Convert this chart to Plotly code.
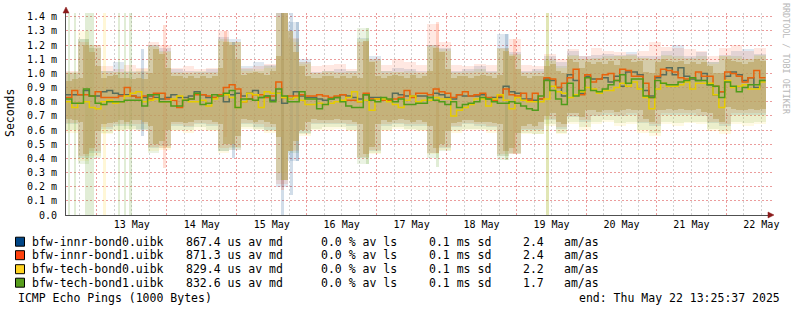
import numpy as np
import pandas as pd
import plotly.graph_objects as go

# ---------------- data ----------------
hosts = ["bfw-innr-bond0.uibk", "bfw-innr-bond1.uibk", "bfw-tech-bond0.uibk", "bfw-tech-bond1.uibk"]
host_colors = ["#004586", "#ff420e", "#ffd320", "#579d1c"]
line_colors = ["#566c5c", "#e8620c", "#e6cc00", "#4f9c1a"]
median_avg_us = [867.4, 871.3, 829.4, 832.6]
loss_avg_pct = [0.0, 0.0, 0.0, 0.0]
sd_ms = [0.1, 0.1, 0.1, 0.1]
am_as = [2.4, 2.4, 2.2, 1.7]
title_text = "ICMP Echo Pings (1000 Bytes)"
end_label = "end: Thu May 22 13:25:37 2025"
end_time = pd.Timestamp("2025-05-22 13:25:37")
start_time = pd.Timestamp("2025-05-12 13:25:37")

# median RTT (ms), 2-hour steps from start_time
med_innr_bond0 = [
    0.85,0.85,0.85,0.88,0.84,0.84,0.87,0.88,0.86,0.85,0.85,0.84,0.83,0.83,0.84,0.83,0.82,0.83,0.85,0.83,0.83,0.84,0.87,0.85,
    0.83,0.83,0.84,0.80,0.85,0.86,0.84,0.86,0.88,0.83,0.84,0.81,0.86,0.79,0.82,0.87,0.84,0.83,0.83,0.82,0.81,0.82,0.83,0.85,
    0.84,0.83,0.82,0.85,0.83,0.83,0.81,0.81,0.86,0.85,0.84,0.84,0.84,0.84,0.83,0.86,0.85,0.83,0.82,0.85,0.84,0.84,0.84,0.85,
    0.82,0.83,0.83,0.91,0.87,0.86,0.82,0.82,0.81,0.82,0.96,0.95,0.90,0.84,0.99,0.95,0.86,0.98,0.96,0.96,0.97,0.94,0.98,0.91,
    1.01,1.01,0.99,0.88,0.84,0.97,0.99,1.04,0.99,1.04,0.98,0.96,0.95,1.00,0.92,0.85,0.87,0.98,1.01,0.99,0.95,0.97,0.90,0.95]
med_innr_bond1 = [
    0.83,0.88,0.85,0.85,0.84,0.87,0.83,0.83,0.83,0.84,0.90,0.84,0.83,0.84,0.82,0.86,0.86,0.82,0.81,0.76,0.81,0.82,0.85,0.85,
    0.84,0.83,0.85,0.90,0.92,0.89,0.80,0.82,0.85,0.85,0.83,0.84,0.94,0.83,0.84,0.84,0.85,0.84,0.84,0.85,0.84,0.83,0.84,0.85,
    0.81,0.81,0.80,0.86,0.82,0.82,0.81,0.81,0.82,0.83,0.88,0.83,0.86,0.86,0.85,0.89,0.87,0.86,0.83,0.85,0.87,0.84,0.85,0.86,
    0.83,0.81,0.84,0.89,0.85,0.84,0.86,0.81,0.86,0.82,0.97,0.96,0.90,0.93,0.97,1.03,0.85,0.99,0.94,0.96,0.99,1.00,0.95,1.03,
    1.02,0.98,0.98,0.93,0.83,0.98,1.03,1.02,1.01,0.97,0.96,0.97,1.01,0.98,0.98,0.91,0.87,1.01,1.00,0.98,0.94,0.97,1.02,0.97]
med_tech_bond0 = [
    0.80,0.76,0.79,0.80,0.76,0.75,0.80,0.81,0.79,0.80,0.84,0.86,0.87,0.80,0.81,0.82,0.80,0.80,0.82,0.84,0.81,0.80,0.80,0.81,
    0.77,0.82,0.84,0.85,0.83,0.76,0.80,0.86,0.85,0.76,0.87,0.86,0.86,0.83,0.82,0.83,0.81,0.78,0.78,0.79,0.78,0.79,0.80,0.81,
    0.83,0.87,0.80,0.81,0.74,0.82,0.82,0.80,0.78,0.76,0.81,0.84,0.80,0.81,0.81,0.83,0.82,0.82,0.70,0.74,0.76,0.78,0.82,0.82,
    0.77,0.82,0.85,0.81,0.75,0.83,0.81,0.80,0.80,0.80,0.82,0.91,0.87,0.86,0.83,0.85,0.87,0.90,0.89,0.86,0.88,0.88,0.90,0.93,
    0.91,0.94,0.89,0.83,0.75,0.89,0.93,0.91,0.91,0.92,0.94,0.89,0.93,0.93,0.93,0.85,0.76,0.95,0.90,0.91,0.92,0.89,0.89,0.94]
med_tech_bond1 = [
    0.82,0.79,0.79,0.89,0.84,0.79,0.78,0.80,0.80,0.80,0.81,0.81,0.81,0.77,0.85,0.85,0.80,0.80,0.77,0.77,0.81,0.82,0.86,0.78,
    0.79,0.85,0.84,0.86,0.88,0.76,0.82,0.82,0.81,0.83,0.84,0.80,0.89,0.84,0.80,0.80,0.87,0.82,0.82,0.75,0.78,0.82,0.83,0.80,
    0.77,0.76,0.76,0.85,0.81,0.80,0.83,0.82,0.80,0.82,0.78,0.78,0.79,0.79,0.83,0.81,0.80,0.78,0.80,0.76,0.78,0.79,0.80,0.83,
    0.82,0.80,0.79,0.79,0.80,0.79,0.77,0.75,0.74,0.84,0.95,0.88,0.82,0.78,0.93,0.84,0.88,0.97,0.88,0.87,0.89,0.92,0.95,0.99,
    0.93,0.96,0.96,0.84,0.83,0.95,0.93,0.92,0.92,0.94,0.95,0.97,0.95,0.95,0.92,0.91,0.83,0.94,0.91,0.87,0.90,0.92,0.92,0.95]

# dense smoke core (all hosts), 2-hour steps (ms)
core_hi = [
    0.95,0.96,0.97,1.20,1.15,1.05,0.97,0.98,0.99,0.97,0.97,0.96,0.97,0.96,1.00,1.17,1.14,1.04,0.98,0.98,0.97,0.98,0.97,0.98,
    0.97,0.98,1.04,1.22,1.20,1.10,0.99,1.00,1.01,1.00,0.99,1.02,1.12,1.43,1.30,1.15,1.05,0.98,0.97,0.97,0.98,0.98,0.97,0.98,
    0.97,0.98,0.97,1.23,1.08,0.98,0.97,0.98,0.99,0.98,0.97,0.99,0.97,0.98,1.02,1.18,1.15,1.03,0.97,0.98,0.98,0.97,0.98,0.99,
    0.98,0.97,0.99,1.16,1.12,1.03,0.98,0.97,0.98,0.98,1.05,1.07,1.02,1.00,1.10,1.08,1.04,1.08,1.07,1.08,1.07,1.09,1.06,1.10,
    1.10,1.08,1.09,1.01,1.00,1.08,1.10,1.09,1.08,1.09,1.07,1.08,1.07,1.08,1.05,1.00,1.00,1.10,1.09,1.08,1.07,1.08,1.10,1.09]
core_lo = [
    0.68,0.67,0.66,0.43,0.47,0.59,0.64,0.65,0.66,0.67,0.66,0.67,0.67,0.66,0.63,0.50,0.52,0.60,0.66,0.66,0.65,0.66,0.67,0.67,
    0.67,0.66,0.64,0.50,0.50,0.56,0.68,0.67,0.66,0.67,0.66,0.64,0.55,0.25,0.45,0.52,0.60,0.66,0.68,0.67,0.67,0.67,0.68,0.67,
    0.67,0.66,0.64,0.43,0.48,0.64,0.67,0.66,0.67,0.68,0.67,0.66,0.67,0.66,0.63,0.47,0.50,0.59,0.65,0.66,0.67,0.67,0.66,0.66,
    0.66,0.65,0.64,0.45,0.47,0.58,0.63,0.64,0.63,0.66,0.70,0.72,0.66,0.64,0.72,0.72,0.69,0.74,0.74,0.73,0.74,0.74,0.73,0.74,
    0.75,0.74,0.74,0.68,0.66,0.74,0.74,0.75,0.74,0.75,0.74,0.74,0.75,0.73,0.72,0.68,0.66,0.76,0.75,0.74,0.74,0.75,0.74,0.75]

# per-host smoke envelope (max / min ping), 4-hour steps (ms)
smoke_hi_innr_bond0 = [
    1.00,1.24,1.18,1.02,1.08,1.01,1.02,1.20,1.18,1.03,1.02,1.01,1.03,1.26,1.24,1.05,1.08,1.06,1.43,1.36,
    1.10,1.01,1.02,1.03,1.02,1.25,1.12,1.02,1.04,1.03,1.02,1.20,1.18,1.02,1.03,1.05,1.02,1.28,1.15,1.02,
    1.03,1.12,1.08,1.16,1.12,1.13,1.14,1.13,1.15,1.12,1.12,1.16,1.20,1.12,1.15,1.08,1.13,1.16,1.17,1.14]
smoke_lo_innr_bond0 = [
    0.64,0.40,0.44,0.61,0.63,0.63,0.60,0.47,0.49,0.63,0.62,0.64,0.63,0.45,0.46,0.64,0.62,0.60,0.20,0.38,
    0.58,0.64,0.64,0.64,0.63,0.40,0.45,0.63,0.64,0.63,0.63,0.44,0.47,0.62,0.64,0.63,0.62,0.42,0.44,0.60,
    0.60,0.67,0.61,0.69,0.66,0.70,0.71,0.70,0.71,0.65,0.63,0.71,0.71,0.71,0.70,0.65,0.63,0.71,0.71,0.71]
smoke_hi_innr_bond1 = [
    1.02,1.22,1.20,1.05,1.03,1.06,1.04,1.22,1.20,1.04,1.05,1.03,1.04,1.30,1.22,1.04,1.05,1.07,1.43,1.25,
    1.08,1.05,1.06,1.07,1.03,1.22,1.10,1.06,1.10,1.08,1.06,1.35,1.22,1.06,1.05,1.07,1.06,1.18,1.24,1.06,
    1.05,1.14,1.10,1.17,1.12,1.18,1.16,1.15,1.14,1.16,1.22,1.19,1.18,1.17,1.16,1.12,1.18,1.20,1.16,1.18]
smoke_lo_innr_bond1 = [
    0.65,0.42,0.45,0.62,0.64,0.64,0.64,0.48,0.47,0.64,0.63,0.65,0.64,0.47,0.48,0.65,0.64,0.62,0.22,0.45,
    0.60,0.65,0.65,0.65,0.64,0.41,0.46,0.64,0.65,0.64,0.64,0.44,0.48,0.63,0.65,0.64,0.63,0.43,0.43,0.61,
    0.61,0.68,0.62,0.70,0.67,0.71,0.72,0.71,0.72,0.66,0.64,0.72,0.72,0.72,0.71,0.66,0.64,0.72,0.72,0.72]
smoke_hi_tech_bond0 = [
    1.00,1.30,1.18,1.00,1.01,1.00,1.03,1.19,1.15,1.00,1.01,1.00,1.00,1.23,1.22,1.02,1.03,1.04,1.40,1.22,
    1.07,1.00,1.01,1.00,1.00,1.24,1.09,1.00,1.01,1.00,1.01,1.19,1.16,1.00,1.00,1.01,1.00,1.17,1.13,1.00,
    1.00,1.09,1.04,1.12,1.10,1.10,1.11,1.12,1.12,1.11,1.10,1.12,1.11,1.10,1.10,1.07,1.12,1.11,1.10,1.12]
smoke_lo_tech_bond0 = [
    0.58,0.38,0.42,0.57,0.59,0.60,0.59,0.45,0.46,0.59,0.58,0.60,0.59,0.44,0.46,0.61,0.60,0.58,0.30,0.46,
    0.56,0.60,0.60,0.61,0.59,0.40,0.43,0.59,0.61,0.60,0.59,0.43,0.46,0.58,0.60,0.60,0.58,0.42,0.44,0.57,
    0.57,0.63,0.57,0.64,0.60,0.64,0.66,0.63,0.64,0.58,0.56,0.64,0.63,0.65,0.64,0.59,0.57,0.64,0.63,0.64]
smoke_hi_tech_bond1 = [
    1.01,1.24,1.20,1.02,1.01,1.02,1.01,1.20,1.16,1.01,1.00,1.02,1.01,1.24,1.22,1.03,1.02,1.05,1.43,1.24,
    1.08,1.00,1.02,1.01,1.02,1.32,1.10,1.02,1.01,1.02,1.00,1.20,1.17,1.01,1.02,1.03,1.01,1.18,1.14,1.01,
    1.02,1.10,1.05,1.13,1.10,1.11,1.12,1.12,1.13,1.11,1.10,1.13,1.12,1.11,1.12,1.08,1.12,1.12,1.10,1.13]
smoke_lo_tech_bond1 = [
    0.60,0.36,0.40,0.58,0.60,0.61,0.61,0.44,0.47,0.60,0.60,0.62,0.60,0.45,0.47,0.62,0.61,0.59,0.25,0.44,
    0.57,0.61,0.62,0.62,0.60,0.36,0.44,0.60,0.62,0.61,0.60,0.40,0.45,0.59,0.61,0.61,0.60,0.39,0.43,0.58,
    0.57,0.64,0.58,0.66,0.62,0.66,0.67,0.65,0.66,0.60,0.58,0.66,0.65,0.66,0.66,0.61,0.59,0.66,0.65,0.66]

# short extreme events (1-hour samples): time, host index, min, max (ms)
spike_time = ["2025-05-12 14:27", "2025-05-12 16:31", "2025-05-12 20:30", "2025-05-12 21:30",
              "2025-05-12 22:40", "2025-05-13 02:30", "2025-05-13 07:37", "2025-05-13 09:40",
              "2025-05-13 11:32", "2025-05-13 15:42", "2025-05-13 23:14", "2025-05-14 20:12",
              "2025-05-14 22:55", "2025-05-15 15:36", "2025-05-15 15:36", "2025-05-15 15:36",
              "2025-05-15 18:40", "2025-05-15 20:45", "2025-05-16 20:45", "2025-05-17 20:57",
              "2025-05-17 20:57", "2025-05-18 20:39", "2025-05-18 20:39", "2025-05-18 23:25",
              "2025-05-19 10:33", "2025-05-19 10:33"]
spike_host = [3, 3, 3, 3, 3, 2, 3, 3, 3, 0, 1, 1, 0, 0, 1, 3, 0, 0, 3, 1, 3, 0, 3, 1, 2, 3]
spike_lo = [0.00, 0.00, 0.00, 0.00, 0.00, 0.00, 0.00, 0.00, 0.00, 0.56, 0.33, 0.55, 0.40,
            0.00, 0.18, 0.25, 0.14, 0.38, 0.36, 0.44, 0.34, 0.45, 0.39, 0.43, 0.00, 0.00]
spike_hi = [1.43, 1.43, 1.43, 1.43, 1.43, 1.43, 1.43, 1.43, 1.43, 1.17, 1.34, 1.30, 1.22,
            1.43, 1.43, 1.43, 1.43, 1.36, 1.32, 1.36, 1.15, 1.28, 1.15, 1.24, 1.43, 1.43]

y_ticks = [0.0, 0.1, 0.2, 0.3, 0.4, 0.5, 0.6, 0.7, 0.8, 0.9, 1.0, 1.1, 1.2, 1.3, 1.4]

medians = [med_innr_bond0, med_innr_bond1, med_tech_bond0, med_tech_bond1]
smoke_hi = [smoke_hi_innr_bond0, smoke_hi_innr_bond1, smoke_hi_tech_bond0, smoke_hi_tech_bond1]
smoke_lo = [smoke_lo_innr_bond0, smoke_lo_innr_bond1, smoke_lo_tech_bond0, smoke_lo_tech_bond1]

# ---------------- helpers ----------------
MONO = "DejaVu Sans Mono"
W_FIG, H_FIG = 797, 311
ML, MR, MT, MB = 66, 25, 13, 96
PW, PH = W_FIG - ML - MR, H_FIG - MT - MB


def fx(px):
    return (px - ML) / PW


def fy(py):
    return (H_FIG - MB - py) / PH


def rgba(hexc, a):
    h = hexc.lstrip("#")
    return "rgba(%d,%d,%d,%.3f)" % (int(h[0:2], 16), int(h[2:4], 16), int(h[4:6], 16), a)


H2 = 2 * 3600 * 1000
H4 = 4 * 3600 * 1000
t2 = pd.date_range(start_time, periods=len(core_hi), freq="2h")
t4 = pd.date_range(start_time, periods=len(smoke_hi_innr_bond0), freq="4h")

fig = go.Figure()

# outer smoke per host
for i in range(4):
    hi = np.array(smoke_hi[i])
    lo = np.array(smoke_lo[i])
    fig.add_trace(go.Bar(x=t4, y=hi - lo, base=lo, width=H4, offset=0,
                         marker=dict(color=rgba(host_colors[i], 0.12), line=dict(width=0)),
                         hoverinfo="skip", showlegend=False))

# short events
s_lo = np.array(spike_lo)
s_hi = np.array(spike_hi)
fig.add_trace(go.Bar(x=pd.to_datetime(spike_time), y=s_hi - s_lo, base=s_lo,
                     width=3600 * 1000, offset=-1800 * 1000,
                     marker=dict(color=[rgba(host_colors[h], 0.18) for h in spike_host], line=dict(width=0)),
                     hoverinfo="skip", showlegend=False))

# dense core
c_hi = np.array(core_hi)
c_lo = np.array(core_lo)
fig.add_trace(go.Bar(x=t2, y=c_hi - c_lo, base=c_lo, width=H2, offset=0,
                     marker=dict(color="rgba(190,168,106,0.72)", line=dict(width=0)),
                     hoverinfo="skip", showlegend=False))

# median lines
for i in range(4):
    xs = list(t2) + [end_time]
    ys = list(medians[i]) + [medians[i][-1]]
    fig.add_trace(go.Scatter(x=xs, y=ys, mode="lines",
                             line=dict(color=line_colors[i], width=1.5, shape="hv"),
                             hoverinfo="skip", showlegend=False))

x_end = end_time + pd.Timedelta(hours=2.23)

fig.update_layout(
    width=W_FIG, height=H_FIG,
    margin=dict(l=ML, r=MR, t=MT, b=MB, pad=0),
    paper_bgcolor="white", plot_bgcolor="white",
    barmode="overlay", bargap=0, showlegend=False,
    font=dict(family=MONO, size=10, color="#000000"),
    xaxis=dict(type="date", range=[start_time, x_end],
               tick0="2025-05-13 00:00:00", dtick=86400000,
               ticklabelmode="period", tickformat="%d %b",
               showgrid=True, gridcolor="#eb9c9c", griddash="2px,2px", gridwidth=1,
               minor=dict(dtick=21600000, tick0="2025-05-13 00:00:00", showgrid=True,
                          gridcolor="#d2d2d2", griddash="2px,2px", gridwidth=1),
               showline=True, linecolor="#505050", linewidth=1,
               ticks="", zeroline=False,
               tickfont=dict(family=MONO, size=10, color="#000000")),
    yaxis=dict(range=[0, 1.427], tickmode="array", tickvals=y_ticks,
               ticktext=[("%.1f" % v) if v == 0 else ("%.1f m" % v) for v in y_ticks],
               showgrid=True, gridcolor="#eb9c9c", griddash="2px,2px", gridwidth=1,
               showline=True, linecolor="#505050", linewidth=1,
               ticks="", zeroline=False, ticklabelstandoff=6,
               tickfont=dict(family=MONO, size=10, color="#000000")),
)

ann = []
shapes = []
ann.append(dict(text="Seconds", x=fx(10), y=fy(113), xref="paper", yref="paper",
                textangle=-90, showarrow=False, xanchor="center", yanchor="middle",
                font=dict(family=MONO, size=11.5, color="#000000")))
ann.append(dict(text="RRDTOOL / TOBI OETIKER", x=fx(786), y=fy(59), xref="paper", yref="paper",
                textangle=90, showarrow=False, xanchor="center", yanchor="middle",
                font=dict(family=MONO, size=8.4, color="#b8b8b8")))

row_y = [241.7, 255.2, 269.2, 282.7]
col_x = [30.7, 185.0, 320.0, 428.0, 521.5, 563.3]
for i in range(4):
    texts = [hosts[i],
             "%.1f us av md" % median_avg_us[i],
             "%.1f %% av ls" % loss_avg_pct[i],
             "%.1f ms sd" % sd_ms[i],
             "%.1f" % am_as[i],
             "am/as"]
    for cx, tx in zip(col_x, texts):
        ann.append(dict(text=tx, x=fx(cx), y=fy(row_y[i]), xref="paper", yref="paper",
                        showarrow=False, xanchor="left", yanchor="middle", borderpad=0,
                        font=dict(family=MONO, size=11.5, color="#000000")))
    shapes.append(dict(type="rect", xref="paper", yref="paper",
                       x0=fx(15.5), x1=fx(24.5), y0=fy(row_y[i] + 4.5), y1=fy(row_y[i] - 4.5),
                       fillcolor=host_colors[i], line=dict(color="#000000", width=1)))

ann.append(dict(text=title_text, x=fx(16.5), y=fy(297.7), xref="paper", yref="paper",
                showarrow=False, xanchor="left", yanchor="middle", borderpad=0,
                font=dict(family=MONO, size=11.5, color="#000000")))
ann.append(dict(text=end_label, x=fx(780.5), y=fy(297.7), xref="paper", yref="paper",
                showarrow=False, xanchor="right", yanchor="middle", borderpad=0,
                font=dict(family=MONO, size=11.5, color="#000000")))

# axis arrows
def tri(p):
    return "M %f %f L %f %f L %f %f Z" % (fx(p[0][0]), fy(p[0][1]), fx(p[1][0]), fy(p[1][1]), fx(p[2][0]), fy(p[2][1]))

shapes.append(dict(type="path", xref="paper", yref="paper",
                   path=tri([(63.0, 13.0), (69.0, 13.0), (66.0, 7.0)]),
                   fillcolor="#8b1a1a", line=dict(color="#8b1a1a", width=0.5)))
shapes.append(dict(type="path", xref="paper", yref="paper",
                   path=tri([(768.0, 212.0), (768.0, 218.0), (774.0, 215.0)]),
                   fillcolor="#8b1a1a", line=dict(color="#8b1a1a", width=0.5)))

fig.update_layout(annotations=ann, shapes=shapes)
fig.write_html("out.html")
